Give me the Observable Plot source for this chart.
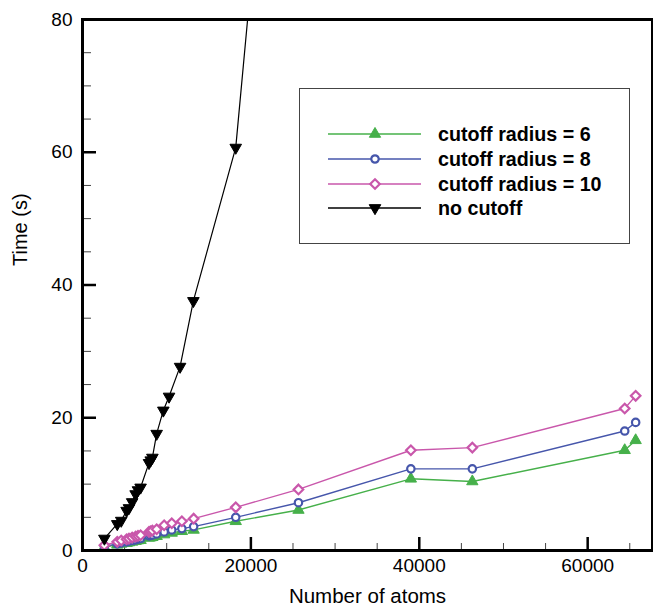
<!DOCTYPE html>
<html><head><meta charset="utf-8">
<script src="https://cdn.jsdelivr.net/npm/d3@7"></script>
<script src="https://cdn.jsdelivr.net/npm/@observablehq/plot@0.6"></script>
<style>
body{margin:0;background:#fff;}
#wrap{position:relative;width:653px;height:607px;font-family:"Liberation Sans",Arial,sans-serif;}
#legend{position:absolute;left:299px;top:88px;width:331px;height:156px;border:1px solid #444;box-sizing:border-box;background:#fff;}
#legend svg{display:block;}
</style></head><body><div id="wrap"></div>
<script>
// ---- data ----
const seriesNames = ["cutoff radius = 6", "cutoff radius = 8", "cutoff radius = 10", "no cutoff"];
const seriesColors = ["#46b04a", "#4656ab", "#c957ab", "#000000"];

const atomsNoCut = [2600, 4130, 4600, 5240, 5520, 5900, 6310, 6590, 6900, 7900, 8100, 8300, 8810, 9600, 10280, 11590, 13170, 18200, 25600];
const timeNoCut  = [1.8, 4.0, 4.5, 6.0, 6.4, 7.3, 8.5, 9.1, 9.5, 13.2, 13.6, 14.0, 17.6, 21.1, 23.2, 27.7, 37.6, 60.7, 162];

const atomsCut = [2600, 4130, 4600, 5240, 5520, 5900, 6310, 6590, 6900, 7900, 8100, 8300, 8810, 9700, 10600, 11800, 13200, 18200, 25650, 39000, 46300, 64400, 65700];
const time6  = [0.5, 0.85, 1.0, 1.1, 1.2, 1.3, 1.4, 1.5, 1.55, 1.9, 1.95, 2.0, 2.15, 2.4, 2.65, 2.9, 3.1, 4.4, 6.1, 10.8, 10.4, 15.1, 16.6];
const time8  = [0.6, 1.0, 1.15, 1.3, 1.4, 1.5, 1.6, 1.7, 1.8, 2.2, 2.3, 2.35, 2.5, 2.8, 3.1, 3.3, 3.6, 5.0, 7.2, 12.3, 12.3, 18.0, 19.3];
const time10 = [0.8, 1.3, 1.5, 1.7, 1.8, 1.95, 2.1, 2.2, 2.3, 2.8, 2.9, 3.0, 3.2, 3.8, 4.1, 4.4, 4.8, 6.5, 9.2, 15.1, 15.5, 21.4, 23.3];

const xTicks = [0, 20000, 40000, 60000];
const yTicks = [0, 20, 40, 60, 80];
const xMinor = [5000, 10000, 15000, 25000, 30000, 35000, 45000, 50000, 55000, 65000];
const yMinor = [5, 10, 15, 25, 30, 35, 45, 50, 55, 65, 70, 75];
const xTitle = "Number of atoms";
const yTitle = "Time (s)";

// ---- build table ----
const rows = [];
[time6, time8, time10].forEach((arr, i) => arr.forEach((t, j) => rows.push({series: seriesNames[i], atoms: atomsCut[j], time: t})));
timeNoCut.forEach((t, j) => rows.push({series: seriesNames[3], atoms: atomsNoCut[j], time: t}));
const bySeries = name => rows.filter(r => r.series === name);

const W = 653, H = 607, mL = 82, mR = 1, mT = 19, mB = 57;
const pw = W - mL - mR, ph = H - mT - mB;

const symbolSpec = [
  {symbol: "triangle", r: 4.2, fill: seriesColors[0], stroke: seriesColors[0], strokeWidth: 1, rotate: 0},
  {symbol: "circle", r: 3.7, fill: "white", stroke: seriesColors[1], strokeWidth: 2.2, rotate: 0},
  {symbol: "diamond2", r: 4.3, fill: "white", stroke: seriesColors[2], strokeWidth: 2.2, rotate: 0},
  {symbol: "triangle", r: 4.3, fill: "black", stroke: "black", strokeWidth: 1, rotate: 180}
];

const seriesMarks = [];
seriesNames.forEach((name, i) => {
  const s = symbolSpec[i];
  seriesMarks.push(Plot.line(bySeries(name), {x: "atoms", y: "time", stroke: seriesColors[i], strokeWidth: i === 3 ? 1.2 : 1.4, clip: true}));
  seriesMarks.push(Plot.dot(bySeries(name), {x: "atoms", y: "time", symbol: s.symbol, r: s.r, fill: s.fill, stroke: s.stroke, strokeWidth: s.strokeWidth, rotate: s.rotate, clip: true}));
});

const chart = Plot.plot({
  width: W, height: H,
  marginLeft: mL, marginRight: mR, marginTop: mT, marginBottom: mB,
  style: {fontFamily: "'Liberation Sans', Arial, sans-serif", fontSize: "19px", color: "black", background: "white"},
  x: {domain: [0, 67700]},
  y: {domain: [0, 80]},
  marks: [
    Plot.tickX(xMinor, {x: d => d, stroke: "#444", strokeWidth: 1, insetTop: ph - 7}),
    Plot.tickX(xTicks, {x: d => d, stroke: "black", strokeWidth: 2.5, insetTop: ph - 13}),
    Plot.tickY(yMinor, {y: d => d, stroke: "#444", strokeWidth: 1, insetRight: pw - 9}),
    Plot.tickY(yTicks, {y: d => d, stroke: "black", strokeWidth: 2.5, insetRight: pw - 14}),
    ...seriesMarks,
    Plot.frame({stroke: "black", strokeWidth: 3}),
    Plot.axisX(xTicks, {tickSize: 0, tickPadding: 8, tickFormat: d3.format("d"), label: null}),
    Plot.axisY(yTicks, {tickSize: 0, tickPadding: 10, label: null}),
    Plot.text([xTitle], {frameAnchor: "bottom", dy: 46, fontSize: 20.5, lineAnchor: "middle"}),
    Plot.text([yTitle], {frameAnchor: "left", dx: -62, dy: -19, rotate: -90, fontSize: 20, lineAnchor: "middle"})
  ]
});
document.getElementById("wrap").appendChild(chart);

// ---- legend ----
const legend = document.createElement("div");
legend.id = "legend";
document.getElementById("wrap").appendChild(legend);
const lsvg = d3.select(legend).append("svg").attr("width", 329).attr("height", 154);
const rowY = [45, 70, 95, 119];
seriesNames.forEach((name, i) => {
  const s = symbolSpec[i];
  const g = lsvg.append("g").attr("transform", `translate(0,${rowY[i]})`);
  g.append("line").attr("x1", 28).attr("x2", 121).attr("y1", 0).attr("y2", 0).attr("stroke", seriesColors[i]).attr("stroke-width", 1.4);
  const type = s.symbol === "triangle" ? d3.symbolTriangle : s.symbol === "circle" ? d3.symbolCircle : d3.symbolDiamond2;
  g.append("path").attr("d", d3.symbol(type, Math.PI * s.r * s.r)())
    .attr("transform", `translate(75,0) rotate(${s.rotate})`)
    .attr("fill", s.fill).attr("stroke", s.stroke).attr("stroke-width", s.strokeWidth);
  g.append("text").attr("x", 138).attr("y", 0).attr("dy", "0.36em")
    .attr("font-family", "'Liberation Sans', Arial, sans-serif").attr("font-weight", "bold").attr("font-size", 19.7)
    .text(name);
});
</script>
</body></html>
